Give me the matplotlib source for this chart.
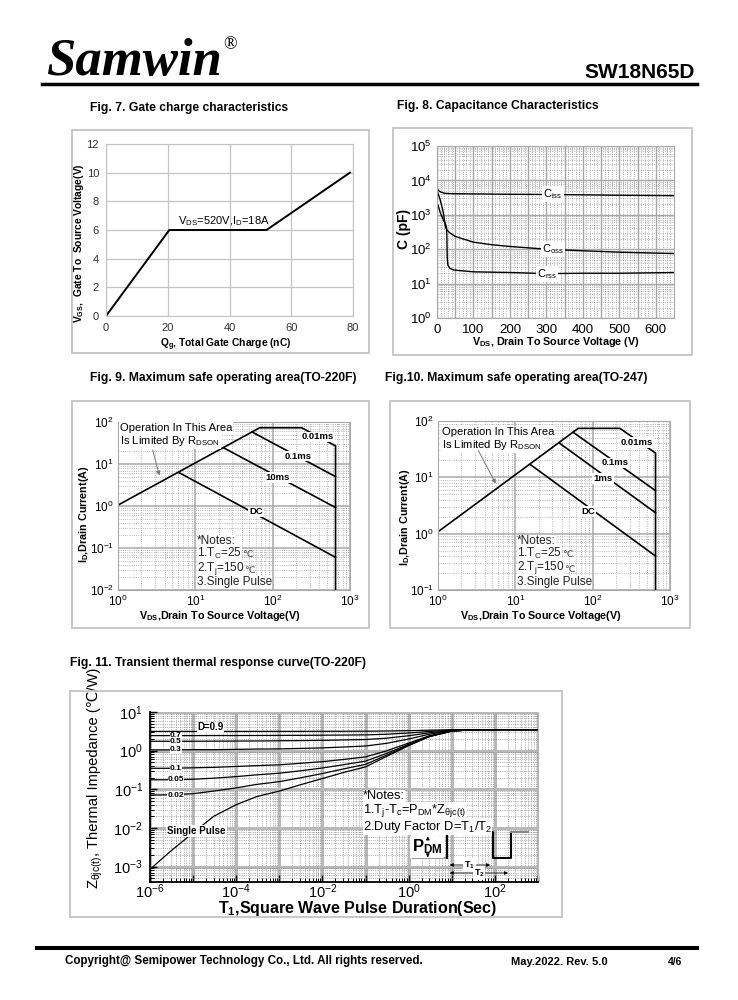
import numpy as np
import matplotlib
matplotlib.use('Agg')
import matplotlib.pyplot as plt
from matplotlib import ticker
from matplotlib.patches import Rectangle
from matplotlib.lines import Line2D
from matplotlib import font_manager as fm

W, H = 738, 1000

# ---------------- data ----------------
# Fig.7 gate charge
qg = [0, 20.5, 52, 79]
vgs = [0, 6, 6, 10]

# Fig.8 capacitance (pF) vs VDS (V)
ciss_v = [0, 5, 10, 15, 20, 30, 50, 100, 200, 300, 400, 500, 650]
ciss_c = [5800, 5000, 4600, 4400, 4250, 4150, 4100, 4050, 3950, 3900, 3800, 3700, 3600]
coss_v = [0, 8, 16, 20, 23, 28, 35, 50, 100, 150, 200, 300, 400, 500, 600, 650]
coss_c = [5100, 2900, 1350, 770, 440, 355, 300, 235, 160, 135, 120, 100, 90, 82, 77, 75]
crss_v = [0, 5, 9, 18, 24, 26, 27, 28, 30, 35, 45, 60, 100, 200, 300, 400, 500, 650]
crss_c = [2250, 1600, 1150, 690, 520, 440, 250, 60, 34, 28, 25, 24, 22, 21, 19.5, 20, 20, 21]

# Fig.9 SOA TO-220F
f9_env_v = [1, 68, 237, 650, 650]
f9_env_i = [1.05, 73, 73, 27, 0.01]
f9_01ms_v, f9_01ms_i = [54, 650], [58, 5.0]
f9_10ms_v, f9_10ms_i = [23, 650], [24.5, 0.92]
f9_dc_v, f9_dc_i = [6.1, 650], [6.3, 0.06]

# Fig.10 SOA TO-247
f10_env_v = [1, 65, 225, 650, 650]
f10_env_i = [1.08, 74, 74, 27, 0.1]
f10_01ms_v, f10_01ms_i = [56, 650], [63, 5.8]
f10_1ms_v, f10_1ms_i = [37.6, 650], [40, 2.35]
f10_dc_v, f10_dc_i = [15.7, 650], [16.8, 0.40]

# Fig.11 transient thermal impedance
t_pulse = [1e-6, 3e-6, 1e-5, 3e-5, 1e-4, 3e-4, 1e-3, 3e-3, 1e-2, 3e-2,
           1e-1, 3e-1, 1, 3, 10, 30, 100, 1000]
z_single = [8.5e-4, 2.5e-3, 7.5e-3, 0.02, 0.04, 0.065, 0.09, 0.13, 0.19, 0.27,
            0.38, 0.7, 1.35, 2.3, 3.2, 3.45, 3.5, 3.5]
z_d09 = [3.15, 3.15, 3.15, 3.15, 3.15, 3.16, 3.16, 3.16, 3.17, 3.18, 3.19, 3.22, 3.29, 3.38, 3.47, 3.5, 3.5, 3.5]
z_d07 = [2.45, 2.45, 2.45, 2.46, 2.46, 2.47, 2.48, 2.49, 2.51, 2.53, 2.56, 2.66, 2.86, 3.14, 3.41, 3.49, 3.5, 3.5]
z_d05 = [1.75, 1.75, 1.75, 1.76, 1.77, 1.78, 1.80, 1.82, 1.85, 1.89, 1.94, 2.1, 2.43, 2.9, 3.35, 3.48, 3.5, 3.5]
z_d03 = [1.05, 1.05, 1.06, 1.06, 1.08, 1.10, 1.11, 1.14, 1.18, 1.24, 1.32, 1.54, 2.0, 2.66, 3.29, 3.47, 3.5, 3.5]
z_d01 = [0.35, 0.35, 0.36, 0.37, 0.39, 0.41, 0.43, 0.47, 0.52, 0.59, 0.69, 0.98, 1.57, 2.42, 3.23, 3.46, 3.5, 3.5]
z_d005 = [0.176, 0.177, 0.182, 0.194, 0.213, 0.237, 0.261, 0.3, 0.356, 0.432, 0.536, 0.84, 1.46, 2.36, 3.22, 3.45, 3.5, 3.5]
z_d002 = [0.071, 0.072, 0.077, 0.090, 0.109, 0.134, 0.158, 0.197, 0.256, 0.335, 0.442, 0.756, 1.39, 2.32, 3.21, 3.45, 3.5, 3.5]
duty_labels = ['0.7', '0.5', '0.3', '0.1', '0.05', '0.02']

# ---------------- style ----------------
plt.rcParams['font.family'] = ['Liberation Sans', 'DejaVu Sans']
plt.rcParams['mathtext.fontset'] = 'custom'
plt.rcParams['mathtext.rm'] = 'Liberation Sans'
plt.rcParams['mathtext.default'] = 'regular'

try:
    fm.findfont(fm.FontProperties(family='Liberation Sans Narrow'), fallback_to_default=False)
    NARROW = ['Liberation Sans Narrow', 'Liberation Sans', 'DejaVu Sans']
    NK = 1.0
except ValueError:
    NARROW = ['Liberation Sans', 'DejaVu Sans']
    NK = 0.82

fig = plt.figure(figsize=(7.38, 10), dpi=100)


def px_axes(l, t, r, b):
    return fig.add_axes([l / W, 1 - b / H, (r - l) / W, (b - t) / H])


def ftext(x, y, s, **kw):
    return fig.text(x / W, 1 - y / H, s, **kw)


def panel(l, t, r, b):
    fig.add_artist(Rectangle((l / W, 1 - b / H), (r - l) / W, (b - t) / H,
                             transform=fig.transFigure, fill=False,
                             ec='#c4c4c4', lw=1.3))


def hline(x0, x1, y, lw):
    fig.add_artist(Line2D([x0 / W, x1 / W], [1 - y / H, 1 - y / H],
                          transform=fig.transFigure, color='black', lw=lw))


box = dict(boxstyle='square,pad=0.1', fc='white', ec='none')

# ---------------- header / footer ----------------
ftext(46, 75, 'Samwin', family='Liberation Serif', weight='bold',
      style='italic', size=38, va='baseline')
ftext(223, 49, '\u00ae', family='Liberation Serif', size=13, va='baseline')
ftext(695, 78, 'SW18N65D', weight='bold', size=15, ha='right', va='baseline')
hline(42, 697, 83.5, 2.5)

hline(37, 697, 948, 2.9)
ftext(65, 961, 'Copyright@ Semipower Technology Co., Ltd. All rights reserved.',
      weight='bold', size=10.2 * NK, family=NARROW, va='center')
ftext(511, 962, 'May.2022. Rev. 5.0', weight='bold', size=9.8 * NK, family=NARROW, va='center')
ftext(668, 962, '4/6', weight='bold', size=9 * NK, family=NARROW, va='center')

# titles
tkw = dict(weight='bold', size=8.7, va='center')
ftext(90, 108, 'Fig. 7. Gate charge characteristics', **tkw)
ftext(397, 106, 'Fig. 8. Capacitance Characteristics', **tkw)
ftext(90, 378, 'Fig. 9. Maximum safe operating area(TO-220F)', **tkw)
ftext(385, 378, 'Fig.10. Maximum safe operating area(TO-247)', **tkw)
ftext(70, 663, 'Fig. 11. Transient thermal response curve(TO-220F)', **tkw)

panel(72, 130, 369, 353)
panel(393, 128, 692, 355)
panel(72, 401, 369, 628)
panel(390, 401, 690, 628)
panel(70, 691, 562, 917)

# ---------------- Fig.7 ----------------
ax7 = px_axes(106, 144, 353, 316)
ax7.plot(qg, vgs, color='black', lw=1.4)
ax7.set_xlim(0, 80)
ax7.set_ylim(0, 12)
ax7.set_xticks(range(0, 81, 20))
ax7.set_yticks(range(0, 13, 2))
ax7.grid(color='#c4c4c4', lw=0.9)
ax7.tick_params(length=0, labelsize=8, colors='#333333', pad=5)
for s in ax7.spines.values():
    s.set_color('#c4c4c4')
ax7.text(23.4, 6.12, 'V$_{DS}$=520V,I$_{D}$=18A', fontsize=8, va='bottom')
ftext(226, 345, 'Q$_{g}$, Total Gate Charge (nC)', weight='bold',
      size=9 * NK, family=NARROW, ha='center', va='center')
ftext(79, 243, 'V$_{GS}$,  Gate To  Source Voltage(V)', weight='bold',
      size=9 * NK, family=NARROW, ha='center', va='center', rotation=90)

# ---------------- Fig.8 ----------------
ax8 = px_axes(437, 146, 674, 318)
for v, c in ((ciss_v, ciss_c), (coss_v, coss_c), (crss_v, crss_c)):
    ax8.plot(v, c, color='black', lw=1.0)
ax8.set_yscale('log')
ax8.set_xlim(0, 650)
ax8.set_ylim(1, 1e5)
ax8.xaxis.set_major_locator(ticker.MultipleLocator(100))
ax8.xaxis.set_minor_locator(ticker.MultipleLocator(10))
ax8.yaxis.set_major_locator(ticker.LogLocator(numticks=10))
ax8.yaxis.set_minor_locator(ticker.LogLocator(subs=np.arange(2, 10), numticks=10))
ax8.grid(which='major', color='#a8a8a8', lw=1.0)
ax8.grid(which='minor', color='#9a9a9a', lw=0.6, ls=':')
for v in range(50, 650, 100):
    ax8.axvline(v, color='#a8a8a8', lw=1.0, zorder=0.5)
ax8.tick_params(which='both', length=0, labelsize=9.5, pad=4)
for s in ax8.spines.values():
    s.set_color('#a8a8a8')
ax8.text(318, 4000, 'C$_{iss}$', fontsize=8, ha='center', va='center', bbox=box)
ax8.text(318, 100, 'C$_{oss}$', fontsize=8, ha='center', va='center', bbox=box)
ax8.text(302, 19.5, 'C$_{rss}$', fontsize=8, ha='center', va='center', bbox=box)
ftext(556, 342, 'V$_{DS}$, Drain To Source Voltage (V)', weight='bold',
      size=9.5 * NK, family=NARROW, ha='center', va='center')
ftext(404, 229, 'C (pF)', weight='bold', size=10, ha='center', va='center', rotation=90)


# ---------------- Fig.9 / Fig.10 ----------------
def soa_axes(ax, ymin):
    ax.set_xscale('log')
    ax.set_yscale('log')
    ax.set_xlim(1, 1000)
    ax.set_ylim(ymin, 100)
    for axis in (ax.xaxis, ax.yaxis):
        axis.set_major_locator(ticker.LogLocator(numticks=10))
        axis.set_minor_locator(ticker.LogLocator(subs=np.arange(2, 10), numticks=10))
    ax.grid(which='major', color='#a8a8a8', lw=1.1)
    ax.grid(which='minor', color='#a0a0a0', lw=0.6, ls=':')
    ax.tick_params(which='both', length=0, labelsize=8.5, pad=3)
    for s in ax.spines.values():
        s.set_color('#a8a8a8')


def degc_after(ax, t, size):
    # the degree-Celsius sign is not in Liberation Sans, so it is set in DejaVu Sans
    ax.annotate('\u2103', xy=(1, 0.24), xycoords=t, ha='left', va='baseline',
                fontsize=size, family='DejaVu Sans', color='#444444')


def soa_notes(ax, x, ys):
    nb = dict(boxstyle='square,pad=0.0', fc='white', ec='none')
    lines = ['*Notes:', '1.T$_{C}$=25', '2.T$_{j}$=150', '3.Single Pulse']
    for k, (y, s) in enumerate(zip(ys, lines)):
        t = ax.text(x, y, s, fontsize=8.5, va='center', ha='left', color='#222222', bbox=nb)
        if k in (1, 2):
            degc_after(ax, t, 6.8)


lkw = dict(fontsize=6.8, weight='bold', ha='center', va='center', bbox=box)

ax9 = px_axes(118, 422, 350, 590)
soa_axes(ax9, 0.01)
ax9.plot(f9_env_v, f9_env_i, color='black', lw=1.2)
for v, i in ((f9_01ms_v, f9_01ms_i), (f9_10ms_v, f9_10ms_i), (f9_dc_v, f9_dc_i)):
    ax9.plot(v, i, color='black', lw=1.2)
ax9.text(387, 44, '0.01ms', **lkw)
ax9.text(213, 15.5, '0.1ms', **lkw)
ax9.text(117, 4.7, '10ms', **lkw)
ax9.text(61, 0.72, 'DC', **lkw)
ax9.text(1.06, 72, 'Operation In This Area', fontsize=8.1, va='center', bbox=box)
ax9.text(1.06, 35, 'Is Limited By R$_{DSON}$', fontsize=8.1, va='center', bbox=box)
ax9.annotate('', xy=(3.5, 4.6), xytext=(2.75, 25),
             arrowprops=dict(arrowstyle='-|>', color='#777777', lw=0.7, mutation_scale=6))
soa_notes(ax9, 10.5, [0.148, 0.076, 0.033, 0.0155])
ftext(220, 616, 'V$_{DS}$,Drain To Source Voltage(V)', weight='bold',
      size=9.5 * NK, family=NARROW, ha='center', va='center')
ftext(84, 514, 'I$_{D}$,Drain Current(A)', weight='bold',
      size=9.5 * NK, family=NARROW, ha='center', va='center', rotation=90)

ax10 = px_axes(438, 421, 670, 590)
soa_axes(ax10, 0.1)
ax10.plot(f10_env_v, f10_env_i, color='black', lw=1.2)
for v, i in ((f10_01ms_v, f10_01ms_i), (f10_1ms_v, f10_1ms_i), (f10_dc_v, f10_dc_i)):
    ax10.plot(v, i, color='black', lw=1.2)
ax10.text(375, 42, '0.01ms', **lkw)
ax10.text(195, 18, '0.1ms', **lkw)
ax10.text(136, 9.7, '1ms', **lkw)
ax10.text(87, 2.5, 'DC', **lkw)
ax10.text(1.12, 63.6, 'Operation In This Area', fontsize=8.1, va='center', bbox=box)
ax10.text(1.12, 37.5, 'Is Limited By R$_{DSON}$', fontsize=8.1, va='center', bbox=box)
ax10.annotate('', xy=(5.8, 7.0), xytext=(3.2, 33),
              arrowprops=dict(arrowstyle='-|>', color='#777777', lw=0.7, mutation_scale=6))
soa_notes(ax10, 10.5, [0.74, 0.45, 0.255, 0.137])
ftext(541, 616, 'V$_{DS}$,Drain To Source Voltage(V)', weight='bold',
      size=9.5 * NK, family=NARROW, ha='center', va='center')
ftext(405, 517, 'I$_{D}$,Drain Current(A)', weight='bold',
      size=9.5 * NK, family=NARROW, ha='center', va='center', rotation=90)

# ---------------- Fig.11 ----------------
ax11 = px_axes(150, 712, 538, 882)
ax11.set_xscale('log')
ax11.set_yscale('log')
for z in (z_d09, z_d07, z_d05, z_d03, z_d01, z_d005, z_d002, z_single):
    ax11.plot(t_pulse, z, color='black', lw=0.9)
ax11.set_xlim(1e-6, 1e3)
ax11.set_ylim(4e-4, 10)
for axis in (ax11.xaxis, ax11.yaxis):
    axis.set_major_locator(ticker.LogLocator(numticks=20))
    axis.set_minor_locator(ticker.LogLocator(subs=np.arange(2, 10), numticks=20))
    axis.set_minor_formatter(ticker.NullFormatter())
ax11.xaxis.set_major_formatter(ticker.FuncFormatter(
    lambda v, p: '$10^{%d}$' % round(np.log10(v)) if round(np.log10(v)) % 2 == 0 else ''))
ax11.yaxis.set_major_formatter(ticker.FuncFormatter(
    lambda v, p: '$10^{%d}$' % round(np.log10(v))))
ax11.grid(which='major', color='#b8b8b8', lw=2.2)
ax11.grid(which='minor', color='#707070', lw=0.5, ls=':')
ax11.tick_params(which='major', direction='in', length=5, width=1, labelsize=10.5)
ax11.tick_params(axis='x', which='major', pad=0.5)
ax11.tick_params(axis='y', which='major', pad=5)
ax11.tick_params(which='minor', direction='in', length=3, width=0.7)
ax11.spines['top'].set_visible(False)
ax11.spines['right'].set_color('#b8b8b8')
ax11.spines['left'].set_linewidth(1.3)
ax11.spines['bottom'].set_linewidth(1.3)

dbox = dict(boxstyle='square,pad=0.02', fc='white', ec='none')
dkw = dict(fontsize=6.0, weight='bold', ha='center', va='center', bbox=dbox)
ax11.text(2.5e-5, 4.0, 'D=0.9', fontsize=7, weight='bold', ha='center', va='center', bbox=dbox)
for s, z in zip(duty_labels, (z_d07, z_d05, z_d03, z_d01, z_d005, z_d002)):
    ax11.text(4e-6, z[0], s, **dkw)
ax11.text(1.2e-5, 0.0083, 'Single Pulse', fontsize=7, weight='bold', ha='center',
          va='center', bbox=box)

nkw = dict(transform=ax11.transAxes, fontsize=9.3, va='center', ha='left',
           bbox=dict(boxstyle='square,pad=0.0', fc='white', ec='none'))
ax11.text(0.549, 0.505, '*Notes:', **nkw)
ax11.text(0.549, 0.418, '1.T$_{j}$-T$_{c}$=P$_{DM}$*Z$_{\u03b8jc(t)}$', **nkw)
ax11.text(0.549, 0.326, '2.Duty Factor D=T$_{1}$/T$_{2}$', **nkw)

# pulse diagram
tr = ax11.transAxes
ax11.plot([0.678, 0.765], [0.141, 0.141], transform=tr, color='#999999', lw=1.5)
ax11.plot([0.765, 0.765, 0.884, 0.884, 0.930, 0.930], [0.141, 0.294, 0.294, 0.141, 0.141, 0.294],
          transform=tr, color='black', lw=1.5)
ax11.plot([0.930, 0.974], [0.294, 0.294], transform=tr, color='#888888', lw=1.5)
ax11.text(0.675, 0.205, 'P$_{DM}$', transform=tr, fontsize=12, weight='bold', va='center', bbox=box)
akw = dict(arrowstyle='-|>', color='black', lw=0.6, mutation_scale=5)
ax11.annotate('', xy=(0.716, 0.285), xytext=(0.716, 0.24), xycoords=tr, textcoords=tr, arrowprops=akw)
ax11.annotate('', xy=(0.716, 0.145), xytext=(0.716, 0.17), xycoords=tr, textcoords=tr, arrowprops=akw)
dak = dict(arrowstyle='<|-|>', color='black', lw=0.6, mutation_scale=5)
ax11.annotate('', xy=(0.765, 0.10), xytext=(0.884, 0.10), xycoords=tr, textcoords=tr, arrowprops=dak)
ax11.annotate('', xy=(0.765, 0.053), xytext=(0.930, 0.053), xycoords=tr, textcoords=tr, arrowprops=dak)
ax11.text(0.824, 0.10, 'T$_{1}$', transform=tr, fontsize=6.5, weight='bold', ha='center', va='center', bbox=box)
ax11.text(0.848, 0.053, 'T$_{2}$', transform=tr, fontsize=6.5, weight='bold', ha='center', va='center', bbox=box)

ftext(358, 909, 'T$_{1}$,Square Wave Pulse Duration(Sec)', weight='bold', size=11.5,
      ha='center', va='center')
zl = ftext(96, 889, 'Z$_{\u03b8jc(t)}$,', size=13 * NK, family=NARROW,
           ha='center', va='bottom', rotation=90)
ax11.annotate(' Thermal Impedance (\u2103/W)', xy=(0, 1), xycoords=zl, size=13 * NK,
              family=NARROW, ha='left', va='bottom', rotation=90)

fig.savefig('out.png', dpi=100)
